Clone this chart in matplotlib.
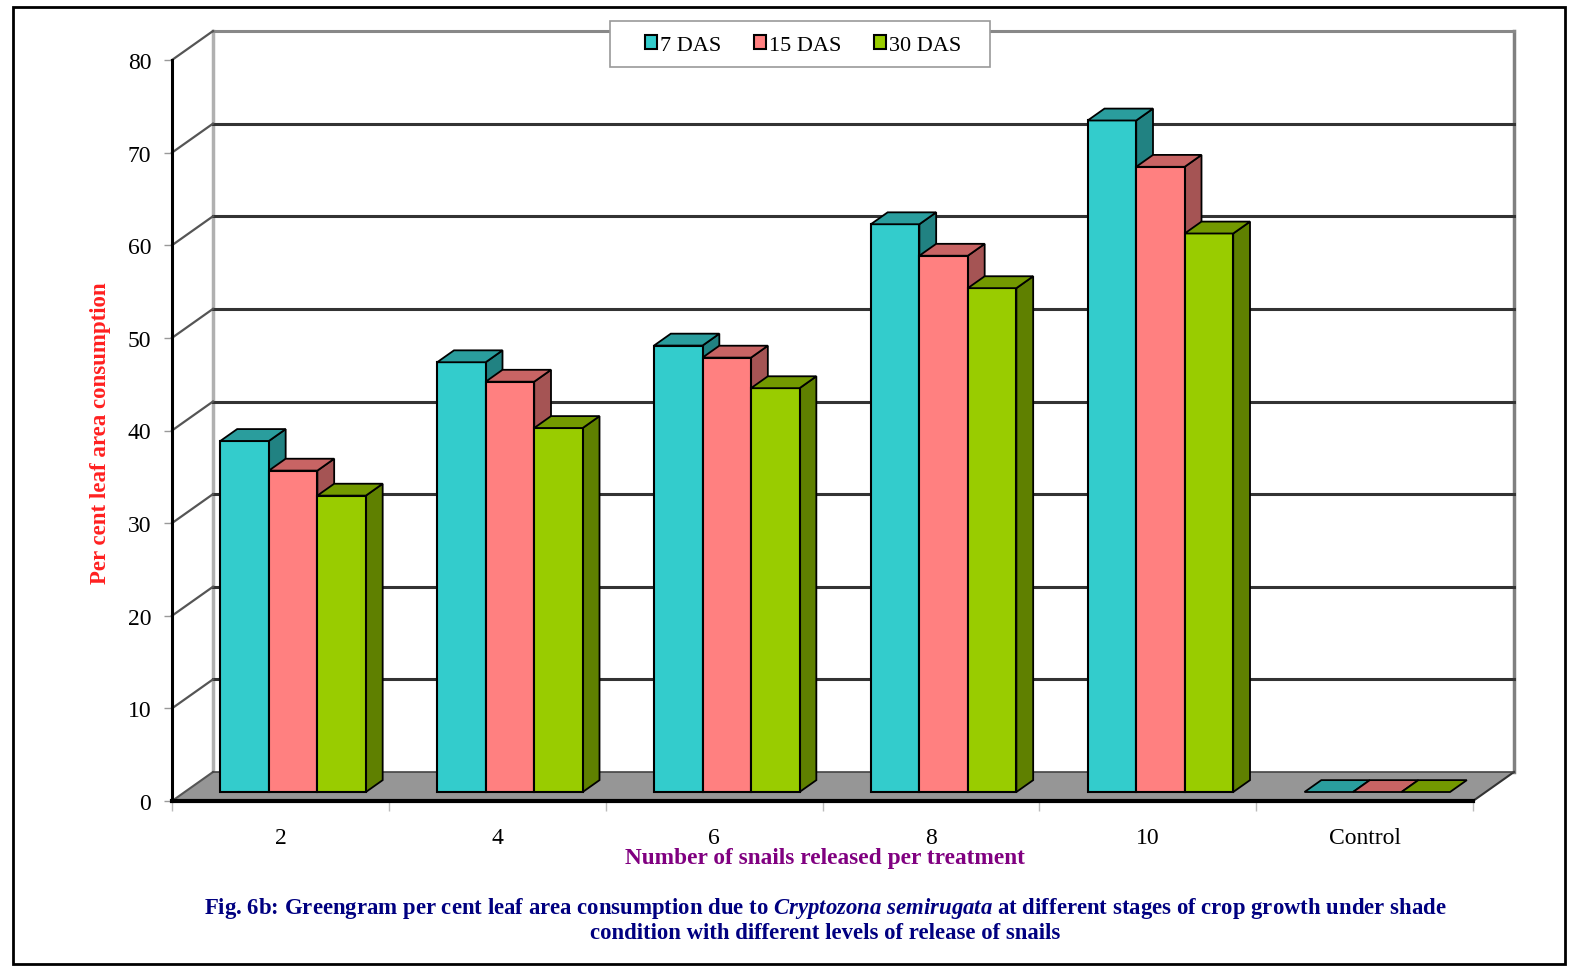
import numpy as np
import matplotlib.pyplot as plt
from matplotlib.patches import Polygon, Rectangle, Patch

plt.rcParams['font.family'] = ['Liberation Serif', 'DejaVu Serif']
plt.rcParams['mathtext.fontset'] = 'custom'
plt.rcParams['mathtext.rm'] = 'Liberation Serif:bold'
plt.rcParams['mathtext.it'] = 'Liberation Serif:italic:bold'
plt.rcParams['mathtext.bf'] = 'Liberation Serif:bold'

# data
categories = ['2', '4', '6', '8', '10', 'Control']
series_names = ['7 DAS', '15 DAS', '30 DAS']
das7 = [37.9, 46.4, 48.2, 61.3, 72.5, 0]
das15 = [34.7, 44.3, 46.9, 57.9, 67.5, 0]
das30 = [32.0, 39.3, 43.6, 54.4, 60.3, 0]
y_ticks = [0, 10, 20, 30, 40, 50, 60, 70, 80]

# front / top / side colours per series
front_cols = ['#33CCCC', '#FF8080', '#99CC00']
top_cols = ['#2A9D9D', '#C86464', '#739900']
side_cols = ['#218282', '#A55454', '#5F8000']

fig = plt.figure(figsize=(15.7, 9.7), dpi=100)
ax = fig.add_axes([172/1570, 168/970, 1301/1570, 741/970])
ax.set_xlim(0, len(categories))
ax.set_ylim(0, 80)

# 3d depth of the wall/floor
DX, DY = 0.189, 3.13
n = len(categories)

# back wall
ax.add_patch(Polygon([(DX, DY), (n + DX, DY), (n + DX, 80 + DY), (DX, 80 + DY)],
                     closed=True, facecolor='white', edgecolor='none', zorder=0, clip_on=False))
ax.plot([DX, DX], [DY, 80 + DY], color='#b0b0b0', lw=2.5, zorder=1, clip_on=False)
ax.plot([n + DX, n + DX], [DY, 80 + DY], color='#808080', lw=2.5, zorder=1, clip_on=False)
for v in y_ticks[1:]:
    c = '#888888' if v == 80 else '#333333'
    ax.plot([DX, n + DX], [v + DY, v + DY], color=c, lw=2.2, zorder=1, clip_on=False)
    # side wall lines
    ax.plot([0, DX], [v, v + DY], color='#555555', lw=1.6, zorder=1, clip_on=False)

# floor
ax.add_patch(Polygon([(0, 0), (n, 0), (n + DX, DY), (DX, DY)], closed=True,
                     facecolor='#969696', edgecolor='none', zorder=2, clip_on=False))
ax.plot([n, n + DX], [0, DY], color='#333333', lw=1.5, zorder=2, clip_on=False)
ax.plot([0, DX], [0, DY], color='#555555', lw=1.5, zorder=2, clip_on=False)
ax.plot([DX, n + DX], [DY, DY], color='#444444', lw=1.2, zorder=2, clip_on=False)

# bars
d0 = 0.31          # bar front face position within the depth
bdx, bdy = 0.41 * DX, 0.41 * DY
bw = 0.2237
start = 0.223
ox, oy = d0 * DX, d0 * DY

z = 3
for i in range(n):
    for j, vals in enumerate([das7, das15, das30]):
        v = vals[i]
        x0 = i + start + j * bw
        x1 = x0 + bw
        y0 = oy
        y1 = oy + v
        side = Polygon([(x1, y0), (x1 + bdx, y0 + bdy), (x1 + bdx, y1 + bdy), (x1, y1)],
                       closed=True, facecolor=side_cols[j], edgecolor='black', lw=1.3, zorder=z)
        front = Rectangle((x0, y0), bw, v, facecolor=front_cols[j], edgecolor='black', lw=1.5, zorder=z)
        top = Polygon([(x0, y1), (x1, y1), (x1 + bdx, y1 + bdy), (x0 + bdx, y1 + bdy)],
                      closed=True, facecolor=top_cols[j], edgecolor='black', lw=1.3, zorder=z)
        if v > 0:
            ax.add_patch(side)
            ax.add_patch(front)
        ax.add_patch(top)
        z += 0.01

# axes styling
for s in ['top', 'right', 'left', 'bottom']:
    ax.spines[s].set_visible(False)
ax.plot([0, 0], [0, 80], color='black', lw=2.2, zorder=6, clip_on=False)
ax.plot([0, n], [0, 0], color='black', lw=3, zorder=6, clip_on=False)

ax.set_yticks(y_ticks)
ax.set_yticklabels([str(t) for t in y_ticks])
ax.tick_params(axis='y', length=6, width=1, color='#999999', pad=9, labelsize=17)

ax.set_xticks(np.arange(0, n + 1))
ax.set_xticklabels([])
ax.set_xticks(np.arange(n) + 0.5, minor=True)
ax.set_xticklabels(categories, minor=True)
ax.tick_params(axis='x', which='major', length=7, width=1, color='#bbbbbb', direction='out')
ax.tick_params(axis='x', which='minor', length=0, pad=19, labelsize=17)

fig.text(101/1570, 1 - 433/970, 'Per cent leaf area consumption', rotation=90, color='#FF2020',
         fontsize=16.5, fontweight='bold', ha='center', va='center')
fig.text(825/1570, 1 - 859/970, 'Number of snails released per treatment', color='#800080',
         fontsize=16.8, fontweight='bold', ha='center', va='center')
fig.text(825/1570, 1 - 909/970,
         r'Fig. 6b: Greengram per cent leaf area consumption due to $\mathit{Cryptozona\ semirugata}$ at different stages of crop growth under shade',
         color='#000080', fontsize=16.4, fontweight='bold', ha='center', va='center')
fig.text(825/1570, 1 - 934/970, 'condition with different levels of release of snails',
         color='#000080', fontsize=16.4, fontweight='bold', ha='center', va='center')

# legend box drawn separately, entries without frame
fig.add_artist(Rectangle((610/1570, 1 - 68/970), 380/1570, 46/970, transform=fig.transFigure,
                         facecolor='white', edgecolor='#999999', lw=1.2, zorder=19))
handles = [Patch(facecolor=c, edgecolor='black', lw=1.5) for c in front_cols]
leg = fig.legend(handles, series_names, loc='center', bbox_to_anchor=(803/1570, 1 - 46/970),
                 ncol=3, fontsize=16, frameon=False, handlelength=0.55,
                 handleheight=0.55, handletextpad=0.15, columnspacing=1.45, borderpad=0,
                 borderaxespad=0)
leg.set_zorder(20)

# outer frame
fig.add_artist(Rectangle((13/1570, 5/970), 1552/1570, 957/970, transform=fig.transFigure,
                         fill=False, edgecolor='black', lw=2))

fig.savefig('out.png', dpi=100)
